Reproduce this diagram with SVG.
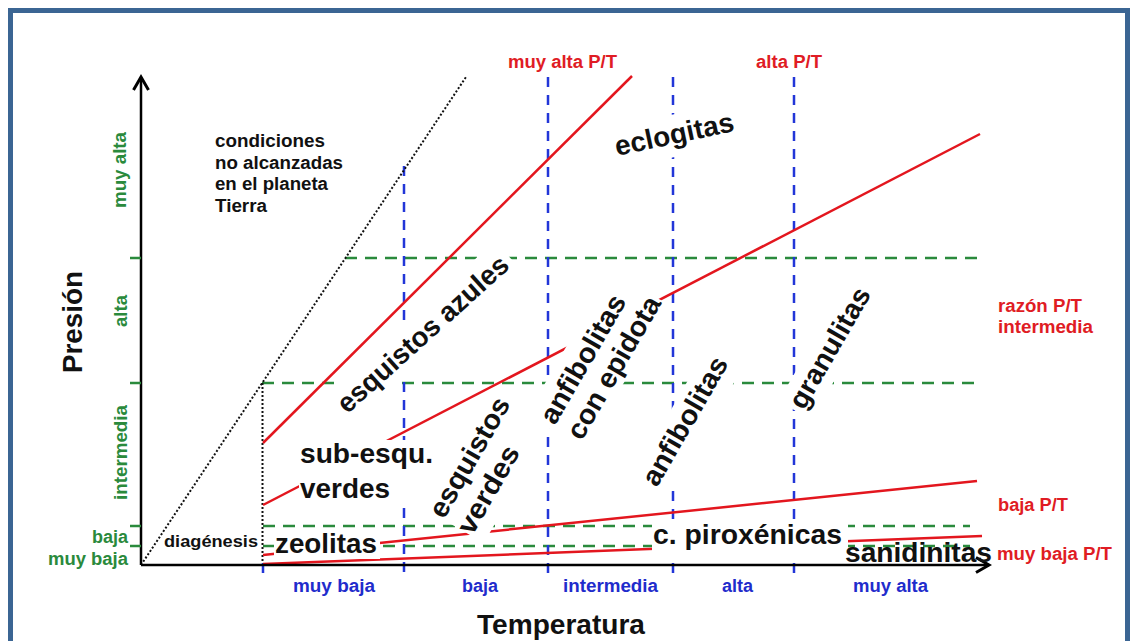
<svg xmlns="http://www.w3.org/2000/svg" width="1138" height="641" viewBox="0 0 1138 641">
<defs>
<style>
.t{font-family:"Liberation Sans",Arial,sans-serif;font-weight:bold;}
.big{font-size:28px;fill:#111;}
.red{font-size:18px;fill:#e01c24;}
.grn{font-size:18px;fill:#2a8a3c;}
.blu{font-size:18px;fill:#1f2ccc;}
.blk{font-size:18px;fill:#111;}
.gd{stroke:#2a8a3c;stroke-width:2.5;stroke-dasharray:12 8;fill:none;}
.bd{stroke:#2236d8;stroke-width:2.5;stroke-dasharray:10 8;fill:none;}
.rl{stroke:#e3161e;stroke-width:2.5;fill:none;}
.dot{stroke:#111;stroke-width:2;stroke-dasharray:2 2;fill:none;}
.box{fill:#fff;}
.ax{stroke:#000;stroke-width:2.5;fill:none;}
.tick{stroke:#2a8a3c;stroke-width:2.5;}
</style>
<marker id="arr" markerUnits="userSpaceOnUse" markerWidth="18" markerHeight="20" viewBox="0 0 18 20" refX="15" refY="10" orient="auto">
<path d="M2,2.5 L15,10 L2,17.5" fill="none" stroke="#000" stroke-width="3"/>
</marker>
</defs>
<rect x="0" y="0" width="1138" height="641" fill="#fff"/>
<rect id="frame" x="10.5" y="10.5" width="1117" height="700" fill="none" stroke="#3b6593" stroke-width="5"/>

<g id="grid">
<path class="gd" d="M345,258 H977 M262,383 H975 M263,526 H970 M263,546 H970"/>
<path class="bd" d="M263,563 V575 M404,166 V575 M548,77 V575 M673,77 V575 M794,77 V575"/>
<path class="dot" d="M141,565 L466,77 M262.5,383 V563"/>
</g>

<g id="connectors">
<path class="rl" d="M263,443 L632,76"/>
<path class="rl" d="M263,505 L980,134"/>
<path class="rl" d="M263,555 L977,481"/>
<path class="rl" d="M263,564 L982,536"/>
</g>

<g id="label-backgrounds">
<rect class="box" x="299" y="440" width="141" height="63"/>
<rect class="box" x="274" y="530" width="106" height="29"/>
<rect class="box" x="652" y="521" width="196" height="39"/>
<rect class="box" transform="translate(617,156) rotate(-12)" x="-4" y="-29" width="129" height="42"/>
<rect class="box" transform="translate(429,341) rotate(-42)" x="-116" y="-30" width="232" height="41"/>
<rect class="box" transform="translate(555,426) rotate(-60)" x="-4" y="-30" width="166" height="68"/>
<rect class="box" transform="translate(444,520) rotate(-60)" x="0" y="-24" width="136" height="70"/>
<rect class="box" transform="translate(657,488) rotate(-60)" x="-4" y="-27" width="154" height="41"/>
<rect class="box" transform="translate(804,411) rotate(-60)" x="-4" y="-27" width="142" height="38"/>
</g>

<g id="axes">
<path class="ax" d="M141,565 H989" marker-end="url(#arr)"/>
<path class="ax" d="M141,565 V77" marker-end="url(#arr)"/>
<path class="tick" d="M130,258 H141 M130,383 H141 M130,526 H141 M130,546 H141"/>
</g>

<g id="axis-titles">
<text class="t big" transform="translate(82,322) rotate(-90)" text-anchor="middle" textLength="102" lengthAdjust="spacingAndGlyphs">Presión</text>
<text class="t big" x="561" y="634" text-anchor="middle" textLength="168" lengthAdjust="spacingAndGlyphs">Temperatura</text>
</g>

<g id="pressure-scale">
<text class="t grn" transform="translate(125.5,170) rotate(-90)" text-anchor="middle" textLength="76" lengthAdjust="spacingAndGlyphs">muy alta</text>
<text class="t grn" transform="translate(127,311) rotate(-90)" text-anchor="middle" textLength="32" lengthAdjust="spacingAndGlyphs">alta</text>
<text class="t grn" transform="translate(127,452.5) rotate(-90)" text-anchor="middle" textLength="95" lengthAdjust="spacingAndGlyphs">intermedia</text>
<text class="t grn" x="92" y="543" textLength="36" lengthAdjust="spacingAndGlyphs">baja</text>
<text class="t grn" x="48" y="565" textLength="80" lengthAdjust="spacingAndGlyphs">muy baja</text>
</g>

<g id="temperature-scale">
<text class="t blu" x="293" y="592" textLength="82" lengthAdjust="spacingAndGlyphs">muy baja</text>
<text class="t blu" x="462" y="592" textLength="36" lengthAdjust="spacingAndGlyphs">baja</text>
<text class="t blu" x="563" y="592" textLength="95" lengthAdjust="spacingAndGlyphs">intermedia</text>
<text class="t blu" x="722" y="592" textLength="31" lengthAdjust="spacingAndGlyphs">alta</text>
<text class="t blu" x="853" y="592" textLength="75" lengthAdjust="spacingAndGlyphs">muy alta</text>
</g>

<g id="ratio-labels">
<text class="t red" x="508" y="68" textLength="109" lengthAdjust="spacingAndGlyphs">muy alta P/T</text>
<text class="t red" x="756" y="68" textLength="66" lengthAdjust="spacingAndGlyphs">alta P/T</text>
<text class="t red" x="998" y="312" textLength="84" lengthAdjust="spacingAndGlyphs">razón P/T</text>
<text class="t red" x="998" y="333" textLength="95" lengthAdjust="spacingAndGlyphs">intermedia</text>
<text class="t red" x="998" y="511" textLength="70" lengthAdjust="spacingAndGlyphs">baja P/T</text>
<text class="t red" x="997" y="560" textLength="115" lengthAdjust="spacingAndGlyphs">muy baja P/T</text>
</g>

<g id="note-conditions">
<text class="t blk" x="215" y="147" textLength="110" lengthAdjust="spacingAndGlyphs">condiciones</text>
<text class="t blk" x="215" y="168.5" textLength="128" lengthAdjust="spacingAndGlyphs">no alcanzadas</text>
<text class="t blk" x="215" y="190" textLength="113" lengthAdjust="spacingAndGlyphs">en el planeta</text>
<text class="t blk" x="215" y="211.5" textLength="52" lengthAdjust="spacingAndGlyphs">Tierra</text>
</g>
<g id="diagenesis"><text class="t blk" style="font-size:17px" x="164" y="547" textLength="94" lengthAdjust="spacingAndGlyphs">diagénesis</text></g>

<g id="facies-zeolitas"><text class="t big" x="275" y="553" textLength="102" lengthAdjust="spacingAndGlyphs">zeolitas</text></g>
<g id="facies-subesquistos">
<text class="t big" x="300" y="463" textLength="133" lengthAdjust="spacingAndGlyphs">sub-esqu.</text>
<text class="t big" x="300" y="498" textLength="90" lengthAdjust="spacingAndGlyphs">verdes</text>
</g>
<g id="facies-piroxenicas"><text class="t big" x="653" y="544" textLength="189" lengthAdjust="spacingAndGlyphs">c. piroxénicas</text></g>
<g id="facies-sanidinitas"><text class="t big" x="845" y="562" textLength="147" lengthAdjust="spacingAndGlyphs">sanidinitas</text></g>
<g id="facies-eclogitas" transform="translate(617,156) rotate(-12)"><text class="t big" x="0" y="0" textLength="121" lengthAdjust="spacingAndGlyphs">eclogitas</text></g>
<g id="facies-esquistos-azules" transform="translate(429,341) rotate(-42)"><text class="t big" x="0" y="0" text-anchor="middle" textLength="220" lengthAdjust="spacingAndGlyphs">esquistos azules</text></g>
<g id="facies-anfibolitas-epidota" transform="translate(555,426) rotate(-60)">
<text class="t big" x="0" y="0" textLength="144" lengthAdjust="spacingAndGlyphs">anfibolitas</text>
<text class="t big" x="0" y="31" textLength="160" lengthAdjust="spacingAndGlyphs">con epidota</text>
</g>
<g id="facies-esquistos-verdes" transform="translate(444,520) rotate(-60)">
<text class="t big" x="0" y="0" textLength="134" lengthAdjust="spacingAndGlyphs">esquistos</text>
<text class="t big" x="0" y="32.5" textLength="97" lengthAdjust="spacingAndGlyphs">verdes</text>
</g>
<g id="facies-anfibolitas" transform="translate(657,488) rotate(-60)"><text class="t big" x="0" y="0" textLength="144" lengthAdjust="spacingAndGlyphs">anfibolitas</text></g>
<g id="facies-granulitas" transform="translate(804,411) rotate(-60)"><text class="t big" x="0" y="0" textLength="135" lengthAdjust="spacingAndGlyphs">granulitas</text></g>
</svg>
